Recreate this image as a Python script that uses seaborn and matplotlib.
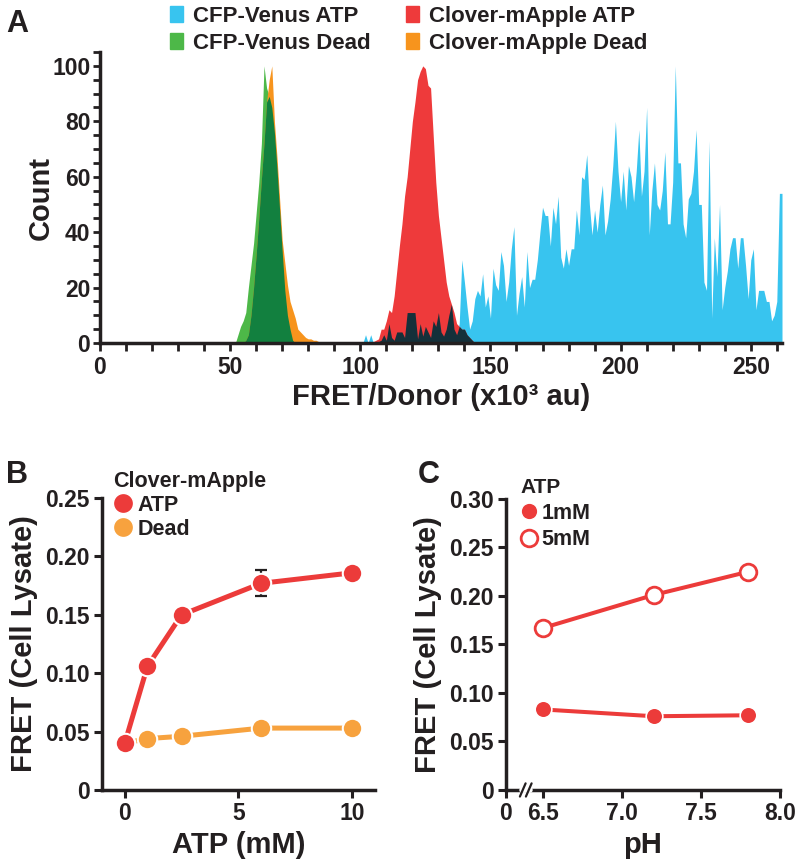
import numpy as np
import pandas as pd
import matplotlib

matplotlib.use("Agg")
import matplotlib.pyplot as plt
from matplotlib.lines import Line2D
from matplotlib.patches import Patch
import seaborn as sns

# ---- panel A: histogram counts, one bin per 1x10^3 au, first bin given by *_start
cfp_dead_start = 52
cfp_dead = [0, 3, 6, 8, 11, 20, 28, 36, 47, 58, 72, 100, 92, 89, 85, 76,
            63, 48, 33, 19, 10, 5, 1, 0]

clover_dead_start = 55
clover_dead = [0, 1, 3, 10, 20, 32, 45, 59, 72, 87, 95, 100, 80, 67, 52, 37,
               29, 21, 15, 12, 9, 5, 4, 3, 2, 1.5, 1.5, 1, 1, 0.5, 0]

clover_atp_start = 95
clover_atp = [0, 0.5, 0.5, 0.5, 0, 0, 0, 0, 0, 0,            # 95-104
              0.5, 1, 1.5, 5, 5, 8, 12, 11, 17, 26,          # 105-114
              35, 43, 53, 60, 70, 80, 87, 95, 98, 100,       # 115-124
              99, 93, 92, 75, 58, 46, 38, 30, 22, 17,        # 125-134
              14, 11, 7, 6, 5, 5, 3, 2, 1, 0]                # 135-144

cfp_atp_start = 100
cfp_atp = [0, 0, 3, 0, 3, 0, 0, 0.5, 1, 3,                   # 100-109
           1, 7, 2, 1, 4, 4, 4, 2, 11, 11,                   # 110-119
           11, 11, 1.5, 7, 2.5, 6, 4, 2, 8, 6,               # 120-129
           11, 4, 2.5, 5, 10, 14, 5, 3, 7, 30,               # 130-139
           22, 13, 5, 8, 16, 19, 17, 25, 13, 17,             # 140-149
           9, 27, 21, 19, 33, 28, 15, 22, 34, 42,            # 150-159
           10, 18, 24, 13, 33, 20, 23, 23, 30, 40,           # 160-169
           49, 46, 46, 35, 49, 43, 53, 31, 27, 34,           # 170-179
           28, 34, 34, 48, 39, 60, 59, 68, 50, 39,           # 180-189
           48, 40, 50, 57, 39, 44, 52, 64, 80, 62,           # 190-199
           51, 62, 48, 64, 60, 51, 62, 77, 53, 62,           # 200-209
           85, 39, 55, 65, 50, 48, 55, 69, 43, 43,           # 210-219
           58, 100, 65, 65, 43, 38, 52, 54, 62, 77,          # 220-229
           50, 50, 22, 19, 73, 9, 38, 24, 50, 12,            # 230-239
           20, 26, 34, 38, 38, 27, 38, 38, 28, 16,           # 240-249
           30, 34, 12, 19, 19, 19, 15, 15, 8, 10,            # 250-259
           15, 54, 54]                                       # 260-262

# ---- panel B: FRET vs ATP
atp_mM = [0, 1, 2.5, 6, 10]
fret_atp = [0.040, 0.106, 0.150, 0.177, 0.186]
fret_dead = [0.040, 0.044, 0.046, 0.053, 0.053]
err_atp = [0, 0, 0, 0.011, 0]

# ---- panel C: FRET vs pH
ph = [6.5, 7.2, 7.8]
fret_1mM = [0.083, 0.076, 0.077]
fret_5mM = [0.167, 0.201, 0.225]

c_cyan = "#38c4ef"
c_red = "#ee3a3b"
c_green = "#4db848"
c_orange = "#f7941d"
c_dkgreen = "#12803f"
c_dark = "#15303a"
c_red2 = "#ec3b3a"
c_orange2 = "#f7a23e"
ink = "#231f20"

sns.set_theme(style="ticks")
plt.rcParams["font.family"] = ["Liberation Sans", "DejaVu Sans"]
plt.rcParams["font.weight"] = "bold"
plt.rcParams["axes.labelweight"] = "bold"
plt.rcParams["text.color"] = ink
plt.rcParams["axes.labelcolor"] = ink
plt.rcParams["xtick.color"] = ink
plt.rcParams["ytick.color"] = ink


def to_frame(start, counts):
    return pd.DataFrame({"bin": np.arange(start, start + len(counts)),
                         "count": np.asarray(counts, dtype=float)})


def overlap(a, b):
    both = pd.merge(a, b, on="bin", how="outer").fillna(0)
    return pd.DataFrame({"bin": both["bin"],
                         "count": both[["count_x", "count_y"]].min(axis=1)})


def hist_area(ax, df, color):
    # one integer bin per row, drawn as a filled polygon through bin centres
    sns.histplot(data=df, x="bin", weights="count", discrete=True, element="poly",
                 fill=True, color=color, alpha=1, linewidth=0, ax=ax)


fig = plt.figure(figsize=(8, 8.61), dpi=100)

# ================= A =================
axA = fig.add_axes([0.125, 0.6016, 0.8525, 0.338])
d_cfp_atp = to_frame(cfp_atp_start, cfp_atp)
d_clv_atp = to_frame(clover_atp_start, clover_atp)
d_cfp_dead = to_frame(cfp_dead_start, cfp_dead)
d_clv_dead = to_frame(clover_dead_start, clover_dead)

hist_area(axA, d_cfp_atp, c_cyan)
hist_area(axA, d_clv_atp, c_red)
hist_area(axA, overlap(d_cfp_atp, d_clv_atp), c_dark)
hist_area(axA, d_cfp_dead, c_green)
hist_area(axA, d_clv_dead, c_orange)
hist_area(axA, overlap(d_cfp_dead, d_clv_dead), c_dkgreen)

axA.set_xlim(0, 262)
axA.set_ylim(0, 105)
axA.set_xticks(np.arange(0, 251, 50))
axA.set_xticks(np.arange(0, 261, 10), minor=True)
axA.set_yticks(np.arange(0, 101, 20))
axA.set_yticks(np.arange(0, 106, 5), minor=True)
axA.tick_params(axis="x", which="both", length=6, width=2, labelsize=16.5, pad=3)
axA.tick_params(axis="y", which="both", length=5, width=2, labelsize=16.5, pad=2)
for sp in ["top", "right"]:
    axA.spines[sp].set_visible(False)
for sp in ["left", "bottom"]:
    axA.spines[sp].set_linewidth(2.5)
    axA.spines[sp].set_color(ink)
axA.set_xlabel("FRET/Donor (x10³ au)", fontsize=21, labelpad=3)
axA.set_ylabel("Count", fontsize=21, labelpad=-2)

legA = [Patch(color=c_cyan, label="CFP-Venus ATP"),
        Patch(color=c_green, label="CFP-Venus Dead"),
        Patch(color=c_red, label="Clover-mApple ATP"),
        Patch(color=c_orange, label="Clover-mApple Dead")]
fig.legend(handles=legA, loc="upper left", bbox_to_anchor=(0.212, 0.9935), ncol=2,
           frameon=False, fontsize=16, handlelength=0.6, handleheight=0.7,
           handletextpad=0.45, columnspacing=1.6, labelspacing=0.28,
           borderpad=0, borderaxespad=0)
fig.text(0.008, 0.9895, "A", fontsize=22, va="top")

# ================= B =================
axB = fig.add_axes([0.1275, 0.0825, 0.341, 0.339])
dfB = pd.DataFrame({"atp": atp_mM, "atp_fret": fret_atp, "dead_fret": fret_dead})
sns.lineplot(data=dfB, x="atp", y="dead_fret", color=c_orange2, linewidth=3.6,
             marker="o", markersize=14, markeredgecolor="white",
             markeredgewidth=1.5, ax=axB, zorder=3)
axB.errorbar(atp_mM, fret_atp, yerr=err_atp, fmt="none", ecolor=ink,
             elinewidth=1.6, capsize=4, capthick=1.6, zorder=3.5)
sns.lineplot(data=dfB, x="atp", y="atp_fret", color=c_red2, linewidth=3.6,
             marker="o", markersize=14, markeredgecolor="white",
             markeredgewidth=1.5, ax=axB, zorder=4)
axB.set_xlim(-1, 11)
axB.set_ylim(0, 0.25)
axB.set_xticks([0, 5, 10])
axB.set_yticks([0, 0.05, 0.10, 0.15, 0.20, 0.25])
axB.set_yticklabels(["0", "0.05", "0.10", "0.15", "0.20", "0.25"])
axB.set_xlabel("ATP (mM)", fontsize=21, labelpad=4)
axB.set_ylabel("FRET (Cell Lysate)", fontsize=21, labelpad=5)
legB = [Line2D([], [], ls="", marker="o", ms=14.5, mfc=c_red2, mec="white", label="ATP"),
        Line2D([], [], ls="", marker="o", ms=14.5, mfc=c_orange2, mec="white", label="Dead")]
axB.legend(handles=legB, title="Clover-mApple", loc="upper left",
           bbox_to_anchor=(0.142, 0.4525), bbox_transform=fig.transFigure,
           frameon=False, fontsize=15.5, title_fontproperties={"weight": "bold", "size": 15.5},
           alignment="left", handlelength=0.9, handletextpad=0.2, labelspacing=0.12,
           borderpad=0, borderaxespad=0)
fig.text(0.008, 0.466, "B", fontsize=22, va="top")

# ================= C =================
axC = fig.add_axes([0.6325, 0.0825, 0.3425, 0.338])
dfC = pd.DataFrame({"ph": ph, "low": fret_1mM, "high": fret_5mM})
sns.lineplot(data=dfC, x="ph", y="high", color=c_red2, linewidth=2.9, marker="o",
             markersize=12, markerfacecolor="white", markeredgecolor=c_red2,
             markeredgewidth=2, ax=axC)
sns.lineplot(data=dfC, x="ph", y="low", color=c_red2, linewidth=2.9, marker="o",
             markersize=12, markerfacecolor=c_red2, markeredgecolor="white",
             markeredgewidth=1.2, ax=axC)
axC.set_xlim(6.266, 8.0)
axC.set_ylim(0, 0.30)
axC.set_xticks([6.266, 6.5, 7.0, 7.5, 8.0])
axC.set_xticklabels(["0", "6.5", "7.0", "7.5", "8.0"])
axC.set_yticks([0, 0.05, 0.10, 0.15, 0.20, 0.25, 0.30])
axC.set_yticklabels(["0", "0.05", "0.10", "0.15", "0.20", "0.25", "0.30"])
axC.set_xlabel("pH", fontsize=21, labelpad=4)
axC.set_ylabel("FRET (Cell Lysate)", fontsize=21, labelpad=5)
# axis break marks
axC.plot([6.37, 6.415], [0, 0], color="white", lw=4, clip_on=False, zorder=5)
for xb in [6.372, 6.41]:
    axC.plot([xb - 0.018, xb + 0.018], [-0.0068, 0.0068], color=ink, lw=1.6,
             clip_on=False, zorder=6)
legC = [Line2D([], [], ls="", marker="o", ms=12, mfc=c_red2, mec="white", label="1mM"),
        Line2D([], [], ls="", marker="o", ms=12, mfc="white", mec=c_red2, mew=2, label="5mM")]
axC.legend(handles=legC, title="ATP", loc="upper left",
           bbox_to_anchor=(0.651, 0.4445), bbox_transform=fig.transFigure,
           frameon=False, fontsize=15.5, title_fontproperties={"weight": "bold", "size": 15},
           alignment="left", handlelength=0.8, handletextpad=0.15, labelspacing=0.25,
           borderpad=0, borderaxespad=0)
fig.text(0.522, 0.466, "C", fontsize=22, va="top")

for ax in (axB, axC):
    for sp in ["top", "right"]:
        ax.spines[sp].set_visible(False)
    for sp in ["left", "bottom"]:
        ax.spines[sp].set_linewidth(2.5)
        ax.spines[sp].set_color(ink)
    ax.tick_params(axis="both", length=6, width=2.2, labelsize=16.5, pad=3)

fig.savefig("out.png", dpi=100)
